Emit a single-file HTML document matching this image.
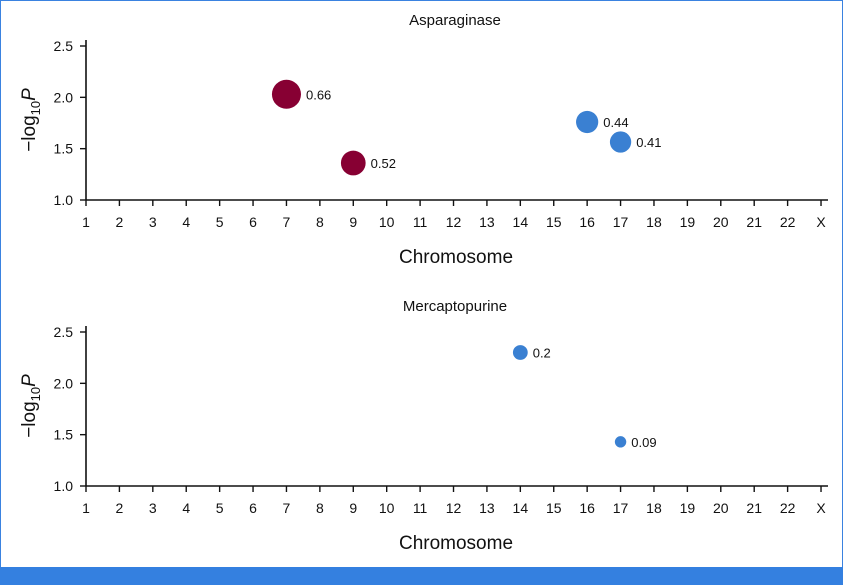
<!DOCTYPE html>
<html><head><meta charset="utf-8"><style>
html,body{margin:0;padding:0;background:#fff}
svg{display:block;font-family:"Liberation Sans",sans-serif}
</style></head><body>
<svg id="chart" width="843" height="585" xmlns="http://www.w3.org/2000/svg">
<rect x="0.5" y="0.5" width="842" height="584" fill="#fff" stroke="#3a82e0" stroke-width="1"/>
<rect x="0" y="567" width="843" height="18" fill="#3480e0"/>
</svg>
<script>
const categories = ['1','2','3','4','5','6','7','8','9','10','11','12','13','14','15','16','17','18','19','20','21','22','X'];
const yTicks = [1.0, 1.5, 2.0, 2.5];
const aspChrom = ['7','9','16','17'];
const aspP = [2.03, 1.36, 1.76, 1.565];
const aspLabel = [0.66, 0.52, 0.44, 0.41];
const aspGroup = ['red','red','blue','blue'];
const mercChrom = ['14','17'];
const mercP = [2.30, 1.43];
const mercLabel = [0.2, 0.09];
const mercGroup = ['blue','blue'];

const NS='http://www.w3.org/2000/svg';
const svg=document.getElementById('chart');
const colors={red:'#870033',blue:'#3a80d2'};
function mk(tag,attrs,parent){const e=document.createElementNS(NS,tag);for(const k in attrs)e.setAttribute(k,attrs[k]);(parent||svg).appendChild(e);return e;}

function panel(title, baseY, chrom, pvals, labels, groups, prefix){
  const g=mk('g',{});
  
  
  const x=c=>86+categories.indexOf(c)*33.41;
  const y=v=>baseY-(v-1)/1.5*154;
  const t=mk('text',{x:455,y:baseY-175,'text-anchor':'middle','font-size':15,fill:'#111'},g);
  t.textContent=title;
  
  
  const ya=mk('line',{x1:86,x2:86,y1:y(2.5)-6,y2:baseY,stroke:'#111','stroke-width':1.6},g);
  
  
  const xa=mk('line',{x1:86,x2:828,y1:baseY,y2:baseY,stroke:'#111','stroke-width':1.6},g);
  
  
  yTicks.forEach(v=>{
    mk('line',{x1:80,x2:86,y1:y(v),y2:y(v),stroke:'#111','stroke-width':1.4},g);
    const l=mk('text',{x:73,y:y(v)+5,'text-anchor':'end','font-size':14,fill:'#111'},g);
    l.textContent=v.toFixed(1);
    
    
  });
  categories.forEach(c=>{
    mk('line',{x1:x(c),x2:x(c),y1:baseY,y2:baseY+6,stroke:'#111','stroke-width':1.4},g);
    const l=mk('text',{x:x(c),y:baseY+27,'text-anchor':'middle','font-size':14,fill:'#111'},g);
    l.textContent=c;
    
    
  });
  const xt=mk('text',{x:456,y:baseY+63,'text-anchor':'middle','font-size':19,fill:'#111'},g);
  xt.textContent='Chromosome';
  
  
  const yt=mk('text',{transform:`translate(35,${baseY-80}) rotate(-90)`,'text-anchor':'middle','font-size':19,fill:'#111'},g);
  yt.innerHTML='−log<tspan font-size="13" dy="5">10</tspan><tspan dy="-5" font-style="italic">P</tspan>';
  
  
  chrom.forEach((c,i)=>{
    const r=4.3+15.5*labels[i];
    const pt=mk('circle',{cx:x(c),cy:y(pvals[i]),r:r,fill:colors[groups[i]]},g);
    
    
    const lb=mk('text',{x:x(c)+r+5,y:y(pvals[i])+5,'font-size':13,fill:'#111'},g);
    lb.textContent=String(labels[i]);
    
    
  });
}
panel('Asparaginase',200,aspChrom,aspP,aspLabel,aspGroup,'asparaginase');
panel('Mercaptopurine',486,mercChrom,mercP,mercLabel,mercGroup,'mercaptopurine');
</script>
</body></html>
